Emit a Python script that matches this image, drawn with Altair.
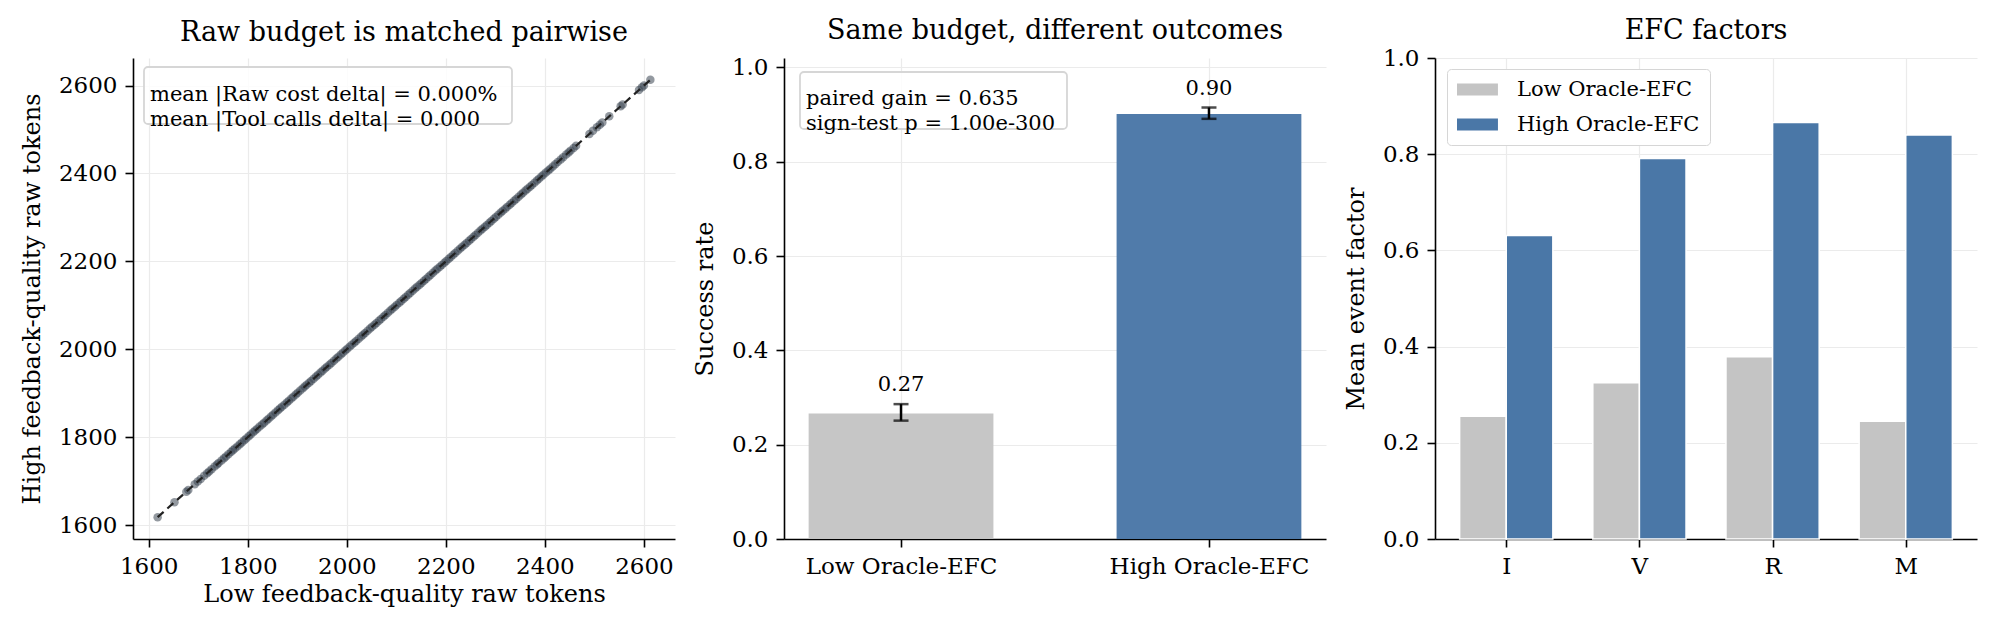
import altair as alt
import pandas as pd

# ---- Panel 1: raw token budgets per matched pair --------------------------
low_tokens = [
    1618, 1652, 1676, 1680, 1693, 1699, 1705, 1712, 1718, 1722, 1727, 1733,
    1738, 1741, 1747, 1752, 1756, 1761, 1766, 1770, 1774, 1779, 1784, 1788,
    1793, 1797, 1802, 1806, 1811, 1815, 1819, 1824, 1829, 1833, 1838, 1842,
    1847, 1851, 1856, 1861, 1865, 1869, 1874, 1879, 1883, 1888, 1892, 1897,
    1901, 1906, 1911, 1915, 1919, 1924, 1928, 1933, 1938, 1942, 1947, 1951,
    1956, 1960, 1965, 1969, 1974, 1979, 1983, 1988, 1992, 1997, 2001, 2006,
    2010, 2015, 2019, 2024, 2029, 2033, 2037, 2042, 2047, 2051, 2056, 2060,
    2065, 2069, 2074, 2078, 2083, 2088, 2092, 2097, 2101, 2106, 2110, 2115,
    2119, 2124, 2128, 2133, 2138, 2142, 2147, 2151, 2156, 2160, 2165, 2169,
    2174, 2179, 2183, 2188, 2192, 2197, 2201, 2206, 2210, 2215, 2219, 2224,
    2229, 2233, 2238, 2242, 2247, 2251, 2256, 2260, 2265, 2270, 2274, 2279,
    2283, 2288, 2292, 2297, 2301, 2306, 2311, 2315, 2320, 2324, 2329, 2333,
    2338, 2342, 2347, 2352, 2356, 2361, 2365, 2370, 2374, 2379, 2384, 2388,
    2393, 2397, 2402, 2407, 2411, 2416, 2421, 2426, 2432, 2437, 2443, 2448,
    2452, 2458, 2463, 2490, 2497, 2505, 2511, 2516, 2530, 2553, 2557, 2590,
    2596, 2600, 2613,
]
# budgets are matched exactly within each pair
high_tokens = list(low_tokens)
low_tool_calls = [0] * len(low_tokens)
high_tool_calls = [0] * len(low_tokens)

# ---- Panel 2: success rate by oracle EFC group ------------------------------
groups = ["Low Oracle-EFC", "High Oracle-EFC"]
success_rate = [0.266, 0.901]
success_ci_low = [0.251, 0.891]
success_ci_high = [0.286, 0.915]
sign_test_p = 1.00e-300

# ---- Panel 3: mean event factors --------------------------------------------
factors = ["I", "V", "R", "M"]
factor_low = [0.255, 0.325, 0.379, 0.245]
factor_high = [0.631, 0.791, 0.866, 0.840]

GREY = "#c4c4c4"
BLUE = "#4a77a7"
FONT = "DejaVu Serif"
W, H = 542, 481
TICK_FS = 23
LABEL_FS = 24

# ---------------------------------------------------------------------------
n = len(low_tokens)
cost_delta_pct = sum(abs(h - l) / l for l, h in zip(low_tokens, high_tokens)) / n * 100
calls_delta = sum(abs(h - l) for l, h in zip(low_tool_calls, high_tool_calls)) / n
paired_gain = success_rate[1] - success_rate[0]

one_row = pd.DataFrame({"k": [0]})


def axis(**kw):
    return alt.Axis(labelFontSize=TICK_FS, titleFontSize=LABEL_FS, labelFont=FONT,
                    titleFont=FONT, labelLimit=0, **kw)


def note_box(x0, x1, y0, y1):
    return alt.Chart(one_row).mark_rect(
        fill="white", fillOpacity=0.85, stroke="#d6d6d6", strokeWidth=1.8, cornerRadius=4
    ).encode(x=alt.value(x0), x2=alt.value(x1), y=alt.value(y0), y2=alt.value(y1))


def note_text(lines, x, y):
    return alt.Chart(one_row).mark_text(
        text=lines, align="left", baseline="middle", font=FONT, fontSize=21,
        lineHeight=25, color="black"
    ).encode(x=alt.value(x), y=alt.value(y))


def title(t, offset):
    return alt.TitleParams(t, font=FONT, fontSize=27, fontWeight="normal",
                           color="black", offset=offset, anchor="middle")


# Panel 1 -------------------------------------------------------------------
tok_df = pd.DataFrame({"low": low_tokens, "high": high_tokens})
lo, hi = min(low_tokens), max(low_tokens)
pad = 0.05 * (hi - lo)
tok_dom = [lo - pad, hi + pad]
tok_ticks = list(range(1600, 2601, 200))
diag_df = pd.DataFrame({"low": [lo, hi], "high": [lo, hi]})

x_tok = alt.X("low:Q", scale=alt.Scale(domain=tok_dom, nice=False, zero=False),
              axis=axis(values=tok_ticks, format="d", title="Low feedback-quality raw tokens"))
y_tok = alt.Y("high:Q", scale=alt.Scale(domain=tok_dom, nice=False, zero=False),
              axis=axis(values=tok_ticks, format="d", title="High feedback-quality raw tokens"))

pts = alt.Chart(tok_df).mark_circle(size=72, color="#3a4652", opacity=0.55).encode(x=x_tok, y=y_tok)
diag = alt.Chart(diag_df).mark_line(color="#222222", strokeDash=[8, 5], strokeWidth=2.2).encode(
    x="low:Q", y="high:Q")
p1 = alt.layer(
    pts, diag,
    note_box(11, 379, 9, 66),
    note_text([f"mean |Raw cost delta| = {cost_delta_pct:.3f}%",
               f"mean |Tool calls delta| = {calls_delta:.3f}"], 17, 36.5),
).properties(width=W, height=H, title=title("Raw budget is matched pairwise", 11))

# Panel 2 -------------------------------------------------------------------
sr_df = pd.DataFrame({
    "group": groups, "pos": list(range(len(groups))), "rate": success_rate,
    "lo": success_ci_low, "hi": success_ci_high,
})
sr_df["left"] = sr_df["pos"] - 0.3
sr_df["right"] = sr_df["pos"] + 0.3
grp_expr = "[" + ",".join(f"'{g}'" for g in groups) + "][datum.value]"
x_sr = alt.Scale(domain=[-0.38, len(groups) - 1 + 0.38], nice=False, zero=False)
y_sr = alt.Scale(domain=[0, 1.02], nice=False)
rate_ticks = [0, 0.2, 0.4, 0.6, 0.8, 1.0]

bars2 = alt.Chart(sr_df).mark_rect(opacity=0.97).encode(
    x=alt.X("left:Q", scale=x_sr,
            axis=axis(values=list(range(len(groups))), labelExpr=grp_expr, title=None)),
    x2="right:Q",
    y=alt.Y("rate:Q", scale=y_sr, axis=axis(values=rate_ticks, format=".1f", title="Success rate")),
    y2=alt.datum(0),
    color=alt.Color("group:N", scale=alt.Scale(domain=groups, range=[GREY, BLUE]), legend=None),
)
err = alt.Chart(sr_df).mark_rule(color="black", strokeWidth=2.5).encode(
    x=alt.X("pos:Q", scale=x_sr), y=alt.Y("lo:Q", scale=y_sr), y2="hi:Q")
cap_lo = alt.Chart(sr_df).mark_tick(orient="horizontal", size=15, thickness=2.5, color="black").encode(
    x=alt.X("pos:Q", scale=x_sr), y=alt.Y("lo:Q", scale=y_sr))
cap_hi = alt.Chart(sr_df).mark_tick(orient="horizontal", size=15, thickness=2.5, color="black").encode(
    x=alt.X("pos:Q", scale=x_sr), y=alt.Y("hi:Q", scale=y_sr))
vals = alt.Chart(sr_df).mark_text(baseline="alphabetic", dy=-13, font=FONT, fontSize=21, color="black").encode(
    x=alt.X("pos:Q", scale=x_sr), y=alt.Y("hi:Q", scale=y_sr), text=alt.Text("rate:Q", format=".2f"))
p2 = alt.layer(
    bars2, err, cap_lo, cap_hi, vals,
    note_box(16, 283, 14, 71),
    note_text([f"paired gain = {paired_gain:.3f}", f"sign-test p = {sign_test_p:.2e}"], 22, 41),
).properties(width=W, height=H, title=title("Same budget, different outcomes", 11))

# Panel 3 -------------------------------------------------------------------
bw = 0.35
rows = []
for i, f in enumerate(factors):
    rows.append({"factor": f, "group": groups[0], "left": i - bw, "right": i, "value": factor_low[i]})
    rows.append({"factor": f, "group": groups[1], "left": i, "right": i + bw, "value": factor_high[i]})
ef_df = pd.DataFrame(rows)
fac_expr = "[" + ",".join(f"'{f}'" for f in factors) + "][datum.value]"
edge = 0.05 * (len(factors) - 1 + 2 * bw)

p3 = alt.Chart(ef_df).mark_rect(stroke="white", strokeWidth=1.5).encode(
    x=alt.X("left:Q",
            scale=alt.Scale(domain=[-bw - edge, len(factors) - 1 + bw + edge], nice=False, zero=False),
            axis=axis(values=list(range(len(factors))), labelExpr=fac_expr, title=None)),
    x2="right:Q",
    y=alt.Y("value:Q", scale=alt.Scale(domain=[0, 1], nice=False),
            axis=axis(values=rate_ticks, format=".1f", title="Mean event factor")),
    y2=alt.datum(0),
    color=alt.Color("group:N", scale=alt.Scale(domain=groups, range=[GREY, BLUE]),
                    legend=alt.Legend(
                        title=None, orient="none", legendX=12, legendY=11, direction="vertical",
                        fillColor="white", strokeColor="#d6d6d6", cornerRadius=4, padding=10,
                        symbolType="M-1,-0.57H2.9V0.57H-1Z", symbolSize=441,
                        symbolStrokeWidth=0, symbolOpacity=1, labelLimit=0,
                        labelFont=FONT, labelFontSize=21, labelColor="black",
                        labelOffset=39, rowPadding=13)),
).properties(width=W, height=H, title=title("EFC factors", 2))

chart = alt.hconcat(p1, p2, p3, spacing=109, bounds="flush").resolve_scale(
    color="independent"
).resolve_legend(color="independent").properties(
    padding={"left": 20, "top": 17, "right": 5, "bottom": 5}
).configure(font=FONT).configure_view(stroke=None).configure_axis(
    domainColor="black", domainWidth=1.6, tickColor="black", tickWidth=1.6, tickSize=8,
    labelFont=FONT, labelFontSize=TICK_FS, labelColor="black", labelPadding=8,
    titleFont=FONT, titleFontSize=LABEL_FS, titleFontWeight="normal", titleColor="black",
    titlePadding=14, gridColor="#ebebeb", gridWidth=1.2,
).configure_axisX(titlePadding=4)

chart.save("out.html", embed_options={"renderer": "svg", "actions": False})
